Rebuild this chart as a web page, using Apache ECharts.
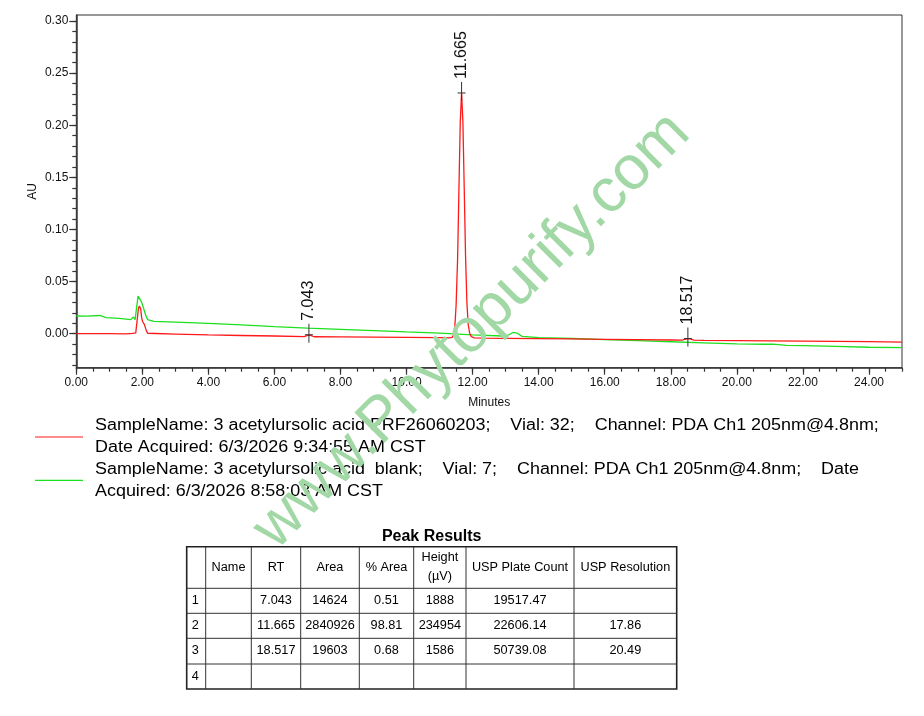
<!DOCTYPE html>
<html>
<head>
<meta charset="utf-8">
<script src="https://cdn.jsdelivr.net/npm/echarts@6/dist/echarts.min.js"></script>
<style>
html,body{margin:0;padding:0;background:#fff;}
#main{width:924px;height:716px;}
</style>
</head>
<body>
<div id="main"></div>
<script>
// ---------- DATA ----------
// Sample trace (red): [minutes, AU]
const sampleTrace = [
  [0.00, 0.0000],[0.50, 0.0001],[1.00, 0.0000],[1.50, -0.0001],[1.70, 0.0003],
  [1.75, 0.0019],[1.80, 0.0008],[1.84, 0.0010],[1.88, 0.0240],[1.91, 0.0266],
  [1.95, 0.0240],[1.98, 0.0150],[2.01, 0.0115],[2.06, 0.0090],[2.12, 0.0030],
  [2.16, 0.0004],[2.40, 0.0002],[3.00, -0.0003],[4.00, -0.0012],[5.00, -0.0017],
  [6.00, -0.0022],[6.90, -0.0028],[6.96, -0.0024],[7.00, -0.0015],[7.043, -0.0010],
  [7.09, -0.0016],[7.14, -0.0026],[7.20, -0.0029],[8.00, -0.0031],[9.00, -0.0033],
  [10.00, -0.0035],[11.00, -0.0038],[11.30, -0.0039],[11.38, -0.0035],[11.42, -0.0014],
  [11.46, 0.0063],[11.50, 0.0278],[11.545, 0.0723],[11.585, 0.1385],[11.625, 0.2030],
  [11.665, 0.2310],[11.705, 0.2035],[11.745, 0.1400],[11.785, 0.0750],[11.825, 0.0310],
  [11.865, 0.0090],[11.91, 0.0005],[11.96, -0.0028],[12.05, -0.0040],[12.30, -0.0043],
  [13.00, -0.0045],[14.00, -0.0047],[15.00, -0.0050],[16.00, -0.0054],[17.00, -0.0057],
  [18.00, -0.0060],[18.35, -0.0061],[18.43, -0.0053],[18.517, -0.0046],[18.60, -0.0052],
  [18.70, -0.0061],[19.00, -0.0064],[20.00, -0.0067],[21.00, -0.0069],[22.00, -0.0071],
  [23.00, -0.0073],[24.00, -0.0076],[25.00, -0.0080]
];
// Blank trace (green): [minutes, AU]
const blankTrace = [
  [0.00, 0.0170],[0.30, 0.0168],[0.72, 0.0175],[0.90, 0.0155],[1.30, 0.0148],
  [1.65, 0.0135],[1.73, 0.0160],[1.78, 0.0135],[1.83, 0.0150],[1.87, 0.0360],
  [1.90, 0.0375],[1.95, 0.0320],[1.99, 0.0290],[2.05, 0.0230],[2.10, 0.0180],
  [2.16, 0.0135],[2.35, 0.0118],[3.00, 0.0112],[4.00, 0.0100],[5.00, 0.0085],
  [6.00, 0.0068],[7.00, 0.0053],[8.00, 0.0042],[9.00, 0.0030],[10.00, 0.0017],
  [11.00, 0.0005],[12.00, -0.0012],[12.90, -0.0022],[13.10, -0.0010],[13.22, 0.0012],
  [13.35, 0.0005],[13.50, -0.0025],[14.00, -0.0038],[15.00, -0.0046],[16.00, -0.0056],
  [17.00, -0.0066],[18.00, -0.0077],[19.00, -0.0088],[20.00, -0.0098],[20.80, -0.0101],
  [21.10, -0.0099],[21.50, -0.0112],[22.00, -0.0115],[23.00, -0.0122],[24.00, -0.0130],
  [25.00, -0.0134]
];
// Peak annotations
const peakRT = [7.043, 11.665, 18.517];
const peakApex = [-0.0010, 0.2310, -0.0046];
const peakLabels = ['7.043', '11.665', '18.517'];

// Axis tick labels
const xTickLabels = ['0.00','2.00','4.00','6.00','8.00','10.00','12.00','14.00','16.00','18.00','20.00','22.00','24.00'];
const yTickLabels = ['0.00','0.05','0.10','0.15','0.20','0.25','0.30'];
const xRange = [0, 25];
const yRange = [-0.0326, 0.3058];

// Legend
const legendSampleLines = [
  'SampleName: 3 acetylursolic acid PRF26060203;    Vial: 32;    Channel: PDA Ch1 205nm@4.8nm;',
  'Date Acquired: 6/3/2026 9:34:55 AM CST'
];
const legendBlankLines = [
  'SampleName: 3 acetylursolic acid  blank;    Vial: 7;    Channel: PDA Ch1 205nm@4.8nm;    Date',
  'Acquired: 6/3/2026 8:58:03 AM CST'
];

// Peak results table
const tableTitle = 'Peak Results';
const tableHeaders = ['', 'Name', 'RT', 'Area', '% Area', 'Height\n(\u00b5V)', 'USP Plate Count', 'USP Resolution'];
const tableRows = [
  ['1', '', '7.043', '14624', '0.51', '1888', '19517.47', ''],
  ['2', '', '11.665', '2840926', '98.81', '234954', '22606.14', '17.86'],
  ['3', '', '18.517', '19603', '0.68', '1586', '50739.08', '20.49'],
  ['4', '', '', '', '', '', '', '']
];
const watermarkText = 'www.Phytopurify.com';

// ---------- LAYOUT / STYLE ----------
const FONT = 'Liberation Sans, Arial, sans-serif';
const colX = [186.7, 205.7, 251.3, 300.7, 359.3, 413.7, 466, 574, 676.7];
const rowY = [546.7, 588.3, 613.3, 638.3, 664, 689];

const xMajor = xTickLabels.map(parseFloat);
const yMajor = yTickLabels.map(parseFloat);
const xMinor = [];
for (let v = 0; v <= 25.0001; v += 0.5) xMinor.push(+v.toFixed(2));
const yMinor = [];
for (let i = -3; i <= 30; i++) yMinor.push(+(i / 100).toFixed(2));

const chart = echarts.init(document.getElementById('main'), null, {renderer: 'canvas'});

const graphics = [];
// watermark
graphics.push({
  type: 'text', x: 472, y: 331, rotation: Math.PI / 4, z: 50,
  style: {text: watermarkText, font: '62px ' + FONT, fill: '#a2d8a5', align: 'center', verticalAlign: 'middle'}
});
// legend
const legendLineH = 21.7;
function legendBlock(y0, color, lines) {
  graphics.push({type: 'line', shape: {x1: 35, y1: y0 + 12, x2: 83, y2: y0 + 12}, style: {stroke: color, lineWidth: 1.2}});
  lines.forEach((t, i) => {
    graphics.push({type: 'text', x: 95, y: y0 + 1 + i * legendLineH, scaleX: 1.12,
      style: {text: t, font: '16px ' + FONT, fill: '#000', align: 'left', verticalAlign: 'middle'}});
  });
}
legendBlock(425, '#ff1a1a', legendSampleLines);
legendBlock(468.4, '#1ee01e', legendBlankLines);
// table
graphics.push({type: 'text', x: (colX[0] + colX[8]) / 2, y: 537,
  style: {text: tableTitle, font: 'bold 16px ' + FONT, fill: '#000', align: 'center', verticalAlign: 'middle'}});
graphics.push({type: 'rect', shape: {x: colX[0], y: rowY[0], width: colX[8] - colX[0], height: rowY[5] - rowY[0]},
  style: {fill: 'none', stroke: '#222', lineWidth: 1.6}});
for (let i = 1; i < colX.length - 1; i++) {
  graphics.push({type: 'line', shape: {x1: colX[i], y1: rowY[0], x2: colX[i], y2: rowY[5]}, style: {stroke: '#333', lineWidth: 1}});
}
for (let j = 1; j < rowY.length - 1; j++) {
  graphics.push({type: 'line', shape: {x1: colX[0], y1: rowY[j], x2: colX[8], y2: rowY[j]}, style: {stroke: '#333', lineWidth: 1}});
}
function cellText(txt, c, r, lineH) {
  if (!txt) return;
  const left = c === 0;
  graphics.push({type: 'text',
    x: left ? colX[c] + 5 : (colX[c] + colX[c + 1]) / 2,
    y: (rowY[r] + rowY[r + 1]) / 2,
    scaleX: 1.06,
    style: {text: txt, font: '12px ' + FONT, fill: '#000', align: left ? 'left' : 'center', verticalAlign: 'middle', lineHeight: lineH || 14}});
}
tableHeaders.forEach((h, c) => cellText(h, c, 0, 19));
tableRows.forEach((row, r) => row.forEach((v, c) => cellText(v, c, r + 1)));

const axisColor = '#333';
const option = {
  animation: false,
  backgroundColor: '#fff',
  grid: {left: 76.3, top: 15, right: 22, bottom: 348.3, show: true, borderColor: axisColor, borderWidth: 1, containLabel: false},
  xAxis: [{
    type: 'value', min: xRange[0], max: xRange[1], position: 'bottom',
    name: 'Minutes', nameLocation: 'middle', nameGap: 29,
    nameTextStyle: {color: '#111', fontSize: 12, fontFamily: FONT},
    axisLine: {show: true, onZero: false, lineStyle: {color: axisColor, width: 1.5}},
    axisTick: {show: true, length: 7, customValues: xMajor, lineStyle: {color: axisColor, width: 1.2}},
    axisLabel: {customValues: xMajor, formatter: v => v.toFixed(2), color: '#111', fontSize: 12, fontFamily: FONT, margin: 9},
    splitLine: {show: false}
  }, {
    type: 'value', min: xRange[0], max: xRange[1], position: 'bottom', gridIndex: 0,
    axisLine: {show: false, onZero: false},
    axisTick: {show: true, length: 4, customValues: xMinor, lineStyle: {color: axisColor, width: 1.2}},
    axisLabel: {show: false}, splitLine: {show: false}
  }],
  yAxis: [{
    type: 'value', min: yRange[0], max: yRange[1], position: 'left',
    name: 'AU', nameLocation: 'middle', nameGap: 38, nameMoveOverlap: false,
    nameTextStyle: {color: '#111', fontSize: 12, fontFamily: FONT},
    axisLine: {show: true, onZero: false, lineStyle: {color: axisColor, width: 1.5}},
    axisTick: {show: true, length: 7, customValues: yMajor, lineStyle: {color: axisColor, width: 1.2}},
    axisLabel: {customValues: yMajor, formatter: v => v.toFixed(2), color: '#111', fontSize: 12, fontFamily: FONT, margin: 8},
    splitLine: {show: false}
  }, {
    type: 'value', min: yRange[0], max: yRange[1], position: 'left', gridIndex: 0,
    axisLine: {show: false, onZero: false},
    axisTick: {show: true, length: 4, customValues: yMinor, lineStyle: {color: axisColor, width: 1.2}},
    axisLabel: {show: false}, splitLine: {show: false}
  }],
  series: [{
    name: 'blank', type: 'line', data: blankTrace, showSymbol: false, symbol: 'none',
    lineStyle: {color: '#1ee01e', width: 1.3}, z: 2
  }, {
    name: 'sample', type: 'line', data: sampleTrace, showSymbol: false, symbol: 'none',
    lineStyle: {color: '#ff1a1a', width: 1.3}, z: 3
  }, {
    name: 'peaks', type: 'custom', z: 4, clip: false,
    data: peakRT.map((t, i) => [t, peakApex[i], i]),
    renderItem: function (params, api) {
      const p = api.coord([api.value(0), api.value(1)]);
      const idx = api.value(2);
      return {
        type: 'group',
        children: [
          {type: 'line', shape: {x1: p[0], y1: p[1] - 11, x2: p[0], y2: p[1] + 8}, style: {stroke: '#333', lineWidth: 1}},
          {type: 'line', shape: {x1: p[0] - 4, y1: p[1], x2: p[0] + 4, y2: p[1]}, style: {stroke: '#333', lineWidth: 1}},
          {type: 'text', x: p[0], y: p[1] - 14, rotation: Math.PI / 2,
            style: {text: peakLabels[idx], font: '16px ' + FONT, fill: '#111', align: 'left', verticalAlign: 'middle'}}
        ]
      };
    }
  }],
  graphic: {elements: graphics}
};
chart.setOption(option);
</script>
</body>
</html>
